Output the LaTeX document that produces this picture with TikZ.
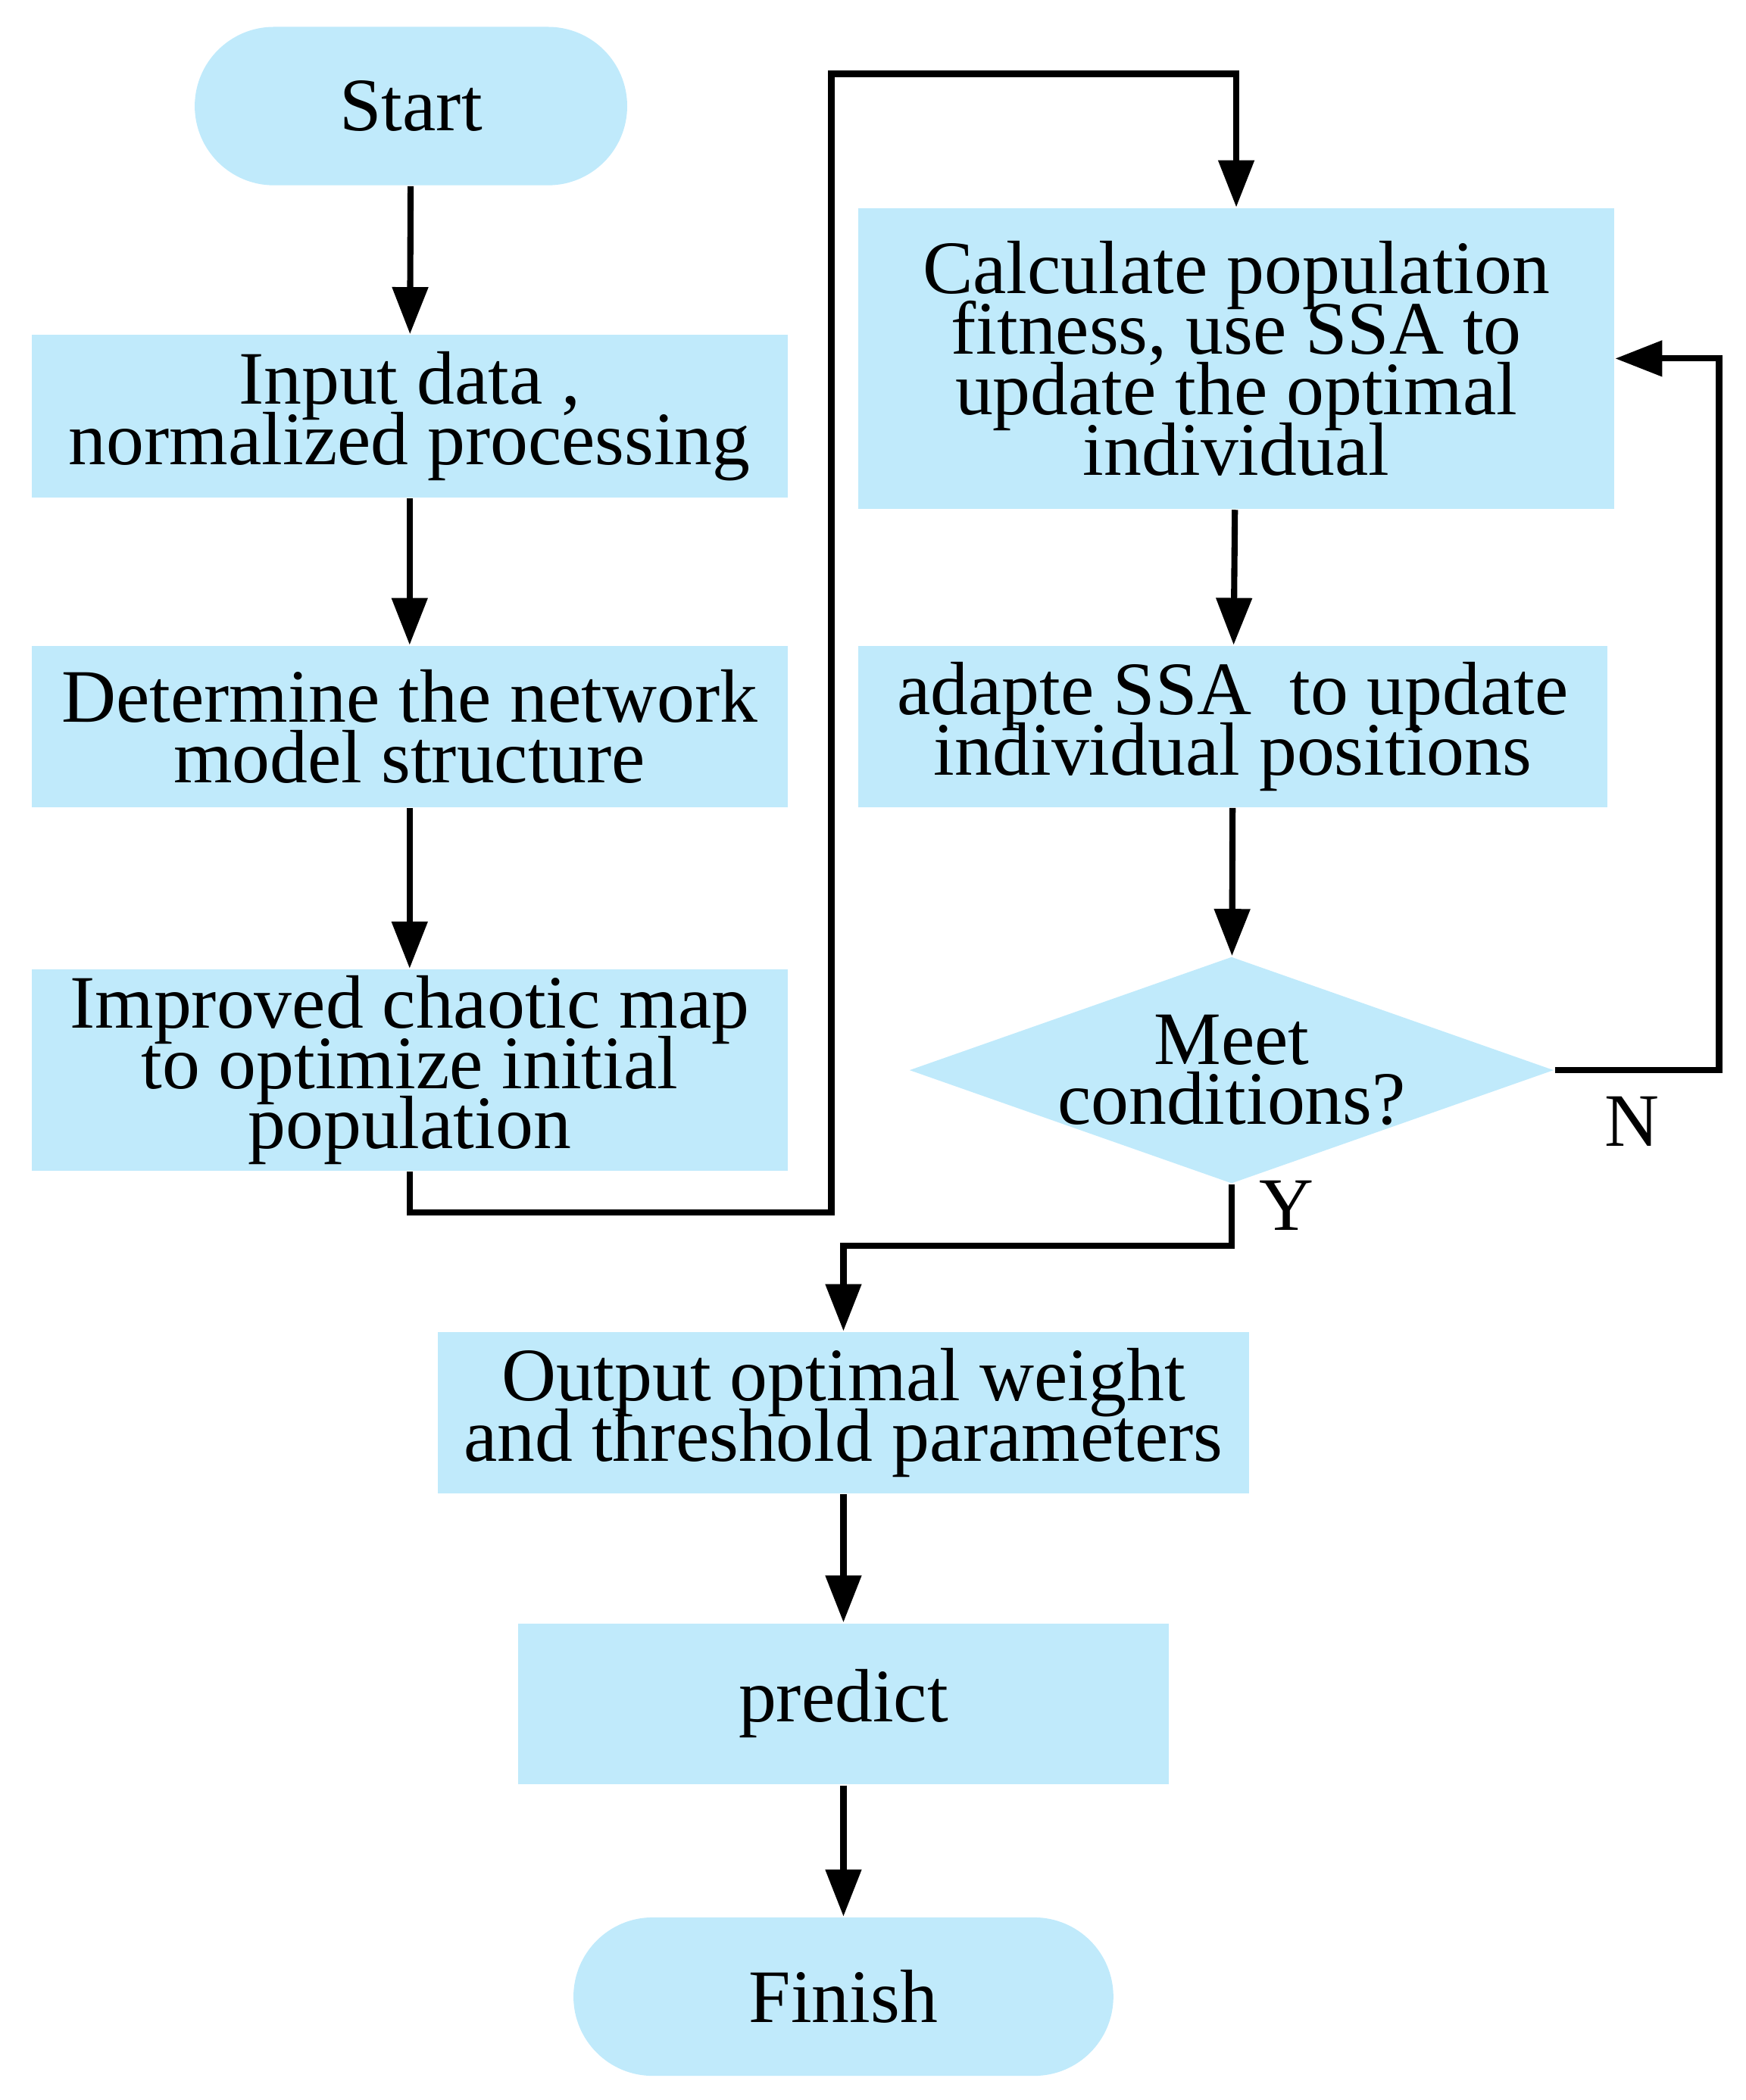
\documentclass[tikz,border=0pt]{standalone}
\usepackage{fontspec}
\setmainfont{Liberation Serif}
\usetikzlibrary{shapes.geometric,arrows.meta}
\definecolor{boxblue}{HTML}{C0EAFB}
\newcommand{\boxfont}{\fontsize{16}{12.8}\selectfont\setlength{\lineskiplimit}{-20pt}}
\begin{document}
\begin{tikzpicture}[
    box/.style={fill=boxblue, draw=none, align=center, inner sep=0pt,
      font=\boxfont},
    arr/.style={line width=1.3pt, -{Triangle[length=0.35cm,width=0.26cm]}}
  ]
  \useasboundingbox (0,0) rectangle (13,-15.64);
  % left column
  \node[box, rounded corners=0.59cm, minimum width=3.22cm, minimum height=1.18cm] (start) at (3.06,-0.79) {Start};
  \node[box, minimum width=5.63cm, minimum height=1.21cm] (input) at (3.05,-3.10) {Input data ,\\ normalized processing};
  \node[box, minimum width=5.63cm, minimum height=1.20cm] (net) at (3.05,-5.41) {Determine the network\\ model structure};
  \node[box, minimum width=5.63cm, minimum height=1.50cm] (chaos) at (3.05,-7.97) {Improved chaotic map\\ to optimize initial\\ population};
  % right column
  \node[box, minimum width=5.63cm, minimum height=2.24cm] (fit) at (9.205,-2.67) {Calculate population\\ fitness, use SSA to\\ update the optimal\\ individual};
  \node[box, minimum width=5.58cm, minimum height=1.20cm] (pos) at (9.18,-5.41) {adapte SSA\ \ to update\\ individual positions};
  \node[box, diamond, aspect=2.84, inner sep=-0.35cm, minimum width=4.80cm, minimum height=1.69cm] (meet) at (9.17,-7.97) {Meet\\ conditions?};
  % bottom column
  \node[box, minimum width=6.04cm, minimum height=1.20cm] (out) at (6.28,-10.52) {Output optimal weight\\ and threshold parameters};
  \node[box, minimum width=4.84cm, minimum height=1.20cm] (pred) at (6.28,-12.69) {predict};
  \node[box, rounded corners=0.59cm, minimum width=4.02cm, minimum height=1.18cm] (finish) at (6.28,-14.87) {Finish};

  % arrows
  \draw[arr] (start) -- (input);
  \draw[arr] (input) -- (net);
  \draw[arr] (net) -- (chaos);
  \draw[arr] (chaos.south) |- (6.19,-9.03) |- (9.205,-0.55) -- (fit.north);
  \draw[arr] (fit) -- (pos);
  \draw[arr] (pos) -- (meet);
  \draw[arr] (meet.east) -- (12.80,-7.97) |- (fit.east);
  \draw[arr] (meet.south) |- (6.28,-9.28) -- (out.north);
  \draw[arr] (out) -- (pred);
  \draw[arr] (pred) -- (finish);
  \node[font=\boxfont] (n) at (12.15,-8.35) {N};
  \node[font=\boxfont] (y) at (9.58,-8.98) {Y};
\end{tikzpicture}
\end{document}
